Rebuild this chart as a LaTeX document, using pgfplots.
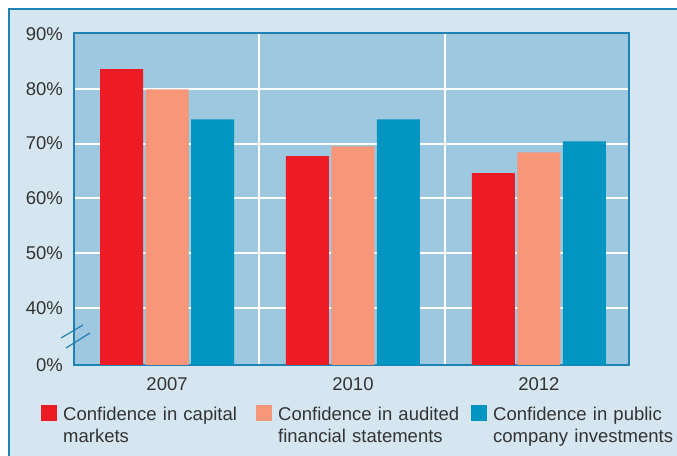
\documentclass[border=0pt]{standalone}
\usepackage{pgfplots}
\pgfplotsset{compat=1.18}
\usepackage{pgfplotstable}
\usepackage{fontspec}
\setmainfont{Liberation Sans}
\definecolor{outerbg}{RGB}{214,230,240}
\definecolor{plotbg}{RGB}{158,200,224}
\definecolor{frameline}{RGB}{30,130,180}
\definecolor{cred}{RGB}{237,28,36}
\definecolor{csalmon}{RGB}{247,150,121}
\definecolor{cteal}{RGB}{0,150,193}
\definecolor{textgray}{RGB}{51,51,51}
\pgfplotstableread{
x red salmon teal
0.003 83.6 79.9 74.4
1.008 67.7 69.5 74.4
2.013 64.6 68.4 70.4
}\confdata
\newcommand{\lblfont}{\fontsize{18.5bp}{22bp}\selectfont}
\begin{document}
\begin{tikzpicture}
\useasboundingbox (0bp,0bp) rectangle (677bp,456bp);
\clip (0bp,0bp) rectangle (677bp,456bp);
\fill[outerbg] (9bp,-10bp) rectangle (700bp,447bp);
\draw[frameline, line width=1.2bp] (9bp,-10bp) -- (9bp,447bp) -- (700bp,447bp);
\begin{axis}[
  at={(74bp,91bp)}, anchor=south west,
  scale only axis, width=555bp, height=332bp,
  xmin=-0.5, xmax=2.5, ymin=0, ymax=60.58,
  ybar, bar width=0.2324,
  axis background/.style={fill=plotbg},
  axis line style={draw=frameline, line width=1.6bp},
  xtick={0.003,1.008,2.013}, xticklabels={2007,2010,2012},
  minor xtick={0.5,1.505}, xminorgrids,
  ytick={10.4,20.4,30.4,40.4,50.4}, yticklabels={40\%,50\%,60\%,70\%,80\%},
  extra y ticks={0,60.4}, extra y tick labels={0\%,90\%},
  extra y tick style={grid=none},
  ymajorgrids,
  major grid style={white, line width=2bp},
  minor grid style={white, line width=2bp},
  major tick length=0pt, minor tick length=0pt,
  tick label style={font=\lblfont, text=textgray, inner sep=0pt},
  yticklabel style={xshift=-11bp},
  xticklabel style={yshift=-12bp},
  /pgf/number format/assume math mode=true,
  legend columns=3,
  legend style={at={(axis description cs:-0.0595,-0.1205)}, anchor=north west,
    draw=none, fill=none, inner sep=0pt, font=\lblfont, text=textgray,
    nodes={text width=193bp, align=left, inner sep=0pt, yshift=5bp},
    /tikz/every odd column/.append style={column sep=6bp}},
  clip=false,
]
\addplot[fill=cred, draw=none, bar shift=-0.246,
  legend image code/.code={\fill[cred] (0bp,-2bp) rectangle (16bp,14bp);}]
  table[x=x, y expr=\thisrow{red}-29.6]{\confdata};
\addlegendentry{Confidence in capital\\markets}
\addplot[fill=csalmon, draw=none, bar shift=0,
  legend image code/.code={\fill[csalmon] (0bp,-2bp) rectangle (16bp,14bp);}]
  table[x=x, y expr=\thisrow{salmon}-29.6]{\confdata};
\addlegendentry{Confidence in audited\\financial statements}
\addplot[fill=cteal, draw=none, bar shift=0.246,
  legend image code/.code={\fill[cteal] (0bp,-2bp) rectangle (16bp,14bp);}]
  table[x=x, y expr=\thisrow{teal}-29.6]{\confdata};
\addlegendentry{Confidence in public\\company investments}
\draw[frameline, line width=1.2bp] (axis description cs:-0.0234,0.0813) -- (axis description cs:0.0162,0.1205);
\draw[frameline, line width=1.2bp] (axis description cs:-0.0144,0.0512) -- (axis description cs:0.0288,0.0964);
\end{axis}
\end{tikzpicture}
\end{document}
